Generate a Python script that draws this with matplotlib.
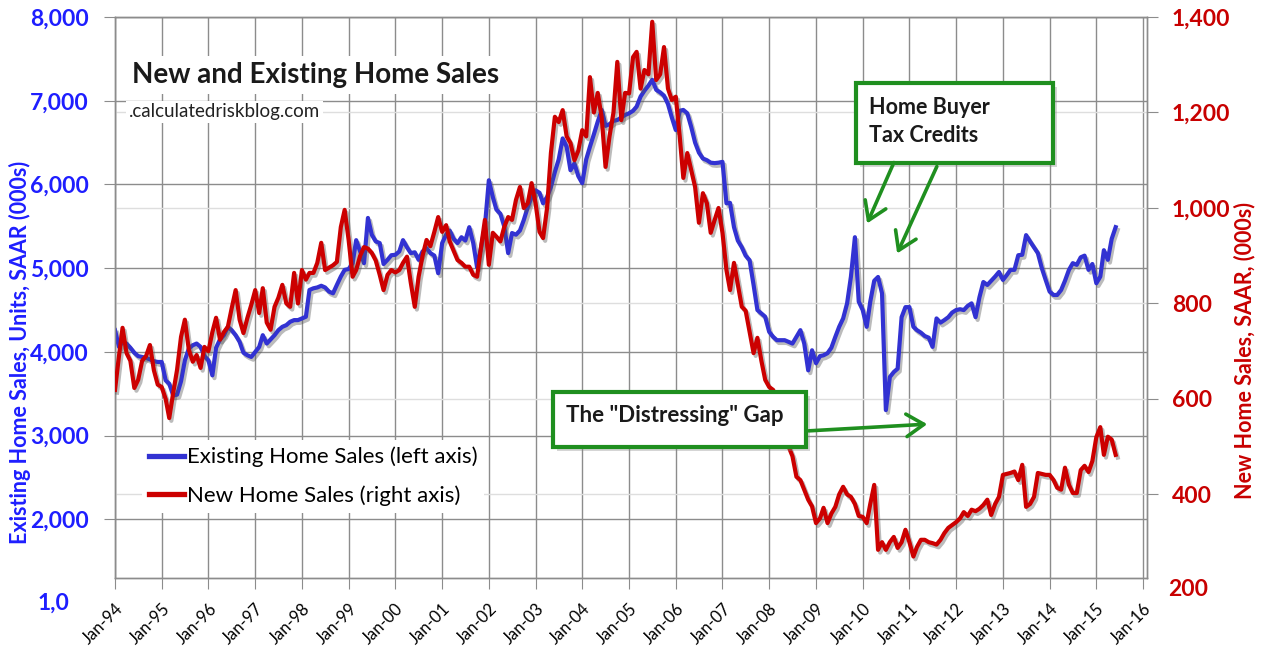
import numpy as np, pandas as pd
import matplotlib
matplotlib.use("Agg")
import matplotlib.pyplot as plt
import matplotlib.patheffects as pe
from matplotlib.patches import Rectangle, FancyArrowPatch

plt.rcParams["font.family"] = ["Lato", "DejaVu Sans"]

# ---- data (monthly, SAAR, thousands) ----
existing_sales = [
    # 1994
    4260, 4060, 4120, 4100, 4050, 3990, 3950, 3940, 3930, 3910, 3890, 3880,
    # 1995
    3880, 3660, 3620, 3480, 3490, 3650, 3900, 4040, 4080, 4100, 4060, 3950,
    # 1996
    3900, 3720, 4050, 4150, 4200, 4300, 4260, 4200, 4120, 3990, 3960, 3940,
    # 1997
    4000, 4060, 4200, 4100, 4150, 4200, 4260, 4300, 4320, 4360, 4380, 4380,
    # 1998
    4400, 4420, 4740, 4760, 4770, 4790, 4770, 4720, 4700, 4800, 4900, 4980,
    # 1999
    4990, 5060, 5335, 5200, 5060, 5600, 5400, 5320, 5300, 5050, 5100, 5155,
    # 2000
    5160, 5200, 5335, 5250, 5180, 5190, 5100, 5200, 5240, 5180, 5150, 4940,
    # 2001
    5300, 5400, 5450, 5350, 5300, 5370, 5330, 5490, 5300, 5010, 5250, 5500,
    # 2002
    6050, 5850, 5700, 5650, 5500, 5180, 5420, 5400, 5450, 5575, 5730, 5850,
    # 2003
    5930, 5900, 5775, 5850, 5970, 6150, 6300, 6550, 6450, 6170, 6250, 6100,
    # 2004
    6015, 6300, 6450, 6600, 6750, 6890, 6700, 6720, 6760, 6770, 6800, 6830,
    # 2005
    6850, 6880, 6930, 7050, 7120, 7180, 7250, 7130, 7100, 7060, 6960, 6800,
    # 2006
    6650, 6880, 6890, 6850, 6690, 6500, 6380, 6310, 6290, 6260, 6255, 6260,
    # 2007
    6270, 5775, 5780, 5490, 5330, 5250, 5150, 5095, 4800, 4500, 4460, 4420,
    # 2008
    4240, 4180, 4140, 4140, 4140, 4120, 4100, 4180, 4260, 4100, 3780, 4020,
    # 2009
    3865, 3950, 3960, 3985, 4050, 4180, 4300, 4400, 4580, 4900, 5370, 4600,
    # 2010
    4500, 4300, 4600, 4850, 4895, 4700, 3305, 3700, 3760, 3800, 4415, 4535,
    # 2011
    4535, 4300, 4260, 4230, 4190, 4170, 4060, 4400, 4350, 4380, 4415, 4470,
    # 2012
    4500, 4510, 4500, 4550, 4580, 4415, 4650, 4835, 4800, 4850, 4900, 4955,
    # 2013
    4860, 4920, 4980, 4980, 5155, 5160, 5395, 5320, 5250, 5180, 5000, 4860,
    # 2014
    4720, 4680, 4680, 4740, 4850, 4980, 5060, 5040, 5130, 5150, 4980, 5050,
    # 2015
    4820, 4900, 5215, 5100, 5350, 5490,
]
new_sales = [
    # 1994
    619, 690, 749, 696, 680, 623, 640, 680, 690, 713, 660, 630,
    # 1995
    625, 600, 560, 613, 661, 730, 766, 703, 678, 692, 665, 709,
    # 1996
    700, 740, 770, 724, 740, 751, 790, 828, 766, 738, 770, 797,
    # 1997
    828, 780, 832, 760, 745, 793, 812, 839, 800, 793, 864, 800,
    # 1998
    870, 850, 864, 864, 885, 927, 870, 875, 880, 887, 960, 996,
    # 1999
    933, 856, 870, 900, 918, 915, 906, 890, 860, 828, 860, 870,
    # 2000
    865, 870, 885, 898, 843, 793, 856, 900, 933, 920, 950, 981,
    # 2001
    950, 964, 930, 910, 891, 885, 877, 877, 860, 856, 918, 975,
    # 2002
    881, 948, 940, 930, 960, 981, 975, 1017, 1044, 1000, 1010, 1052,
    # 2003
    1010, 950, 937, 1000, 1115, 1191, 1180, 1205, 1150, 1136, 1100, 1120,
    # 2004
    1163, 1150, 1274, 1200, 1241, 1190, 1086, 1150, 1200, 1306, 1184, 1241,
    # 2005
    1240, 1316, 1327, 1250, 1289, 1280, 1390, 1268, 1280, 1337, 1250, 1226,
    # 2006
    1233, 1149, 1063, 1115, 1080, 1044, 969, 1031, 1010, 948, 975, 1000,
    # 2007
    948, 870, 828, 885, 840, 793, 785, 740, 696, 728, 680, 640,
    # 2008
    625, 619, 600, 550, 514, 500, 480, 437, 430, 410, 389, 375,
    # 2009
    340, 350, 372, 340, 360, 374, 400, 416, 400, 395, 380, 355,
    # 2010
    353, 340, 380, 420, 284, 300, 284, 300, 311, 288, 300, 326,
    # 2011
    300, 270, 290, 305, 305, 300, 298, 295, 305, 319, 330, 336,
    # 2012
    342, 350, 363, 355, 368, 365, 370, 378, 389, 357, 380, 395,
    # 2013
    441, 443, 445, 448, 430, 462, 374, 380, 395, 445, 443, 441,
    # 2014
    441, 430, 414, 410, 456, 420, 403, 403, 451, 460, 447, 470,
    # 2015
    520, 541, 483, 521, 515, 483,
]
dates = pd.date_range("1994-01-01", periods=len(existing_sales), freq="MS")
year_ticks = pd.date_range("1994-01-01", "2016-01-01", freq="YS")
year_labels = [f"Jan-{d.strftime('%y')}" for d in year_ticks]
left_ticks = [2000, 3000, 4000, 5000, 6000, 7000, 8000]
right_ticks = [400, 600, 800, 1000, 1200, 1400]

BLUE = "#3232d2"; RED = "#cc0000"; GREEN = "#1f8f1f"
LBLUE = "#1e1eff"; LRED = "#c80000"
W, H = 1262, 649
def px(x, y):
    return (x / W, 1 - y / H)

fig = plt.figure(figsize=(W / 100, H / 100), dpi=100)
AX_L, AX_R, AX_T, AX_B = 115, 1147, 17, 578
ax1 = fig.add_axes([AX_L / W, 1 - AX_B / H, (AX_R - AX_L) / W, (AX_B - AX_T) / H])
ax2 = ax1.twinx()

YL = (1300, 8000); YR = (225, 1400)
ax1.set_ylim(*YL); ax2.set_ylim(*YR)
ax1.set_xlim(pd.Timestamp("1994-01-01"), pd.Timestamp("2016-02-01"))

# grids: dark lines at left ticks, light lines at right ticks, verticals at each Jan
conv = [YL[0] + (r - YR[0]) * (YL[1] - YL[0]) / (YR[1] - YR[0]) for r in right_ticks]
ax1.set_yticks(left_ticks)
ax1.set_yticks(conv, minor=True)
ax1.set_xticks(year_ticks)
ax1.grid(True, which="major", color="#8c8c8c", lw=1.0)
ax1.grid(True, which="minor", axis="y", color="#dedede", lw=1.0)
ax1.set_axisbelow(True)
ax1.tick_params(which="minor", left=False)

sh = [pe.SimpleLineShadow(offset=(1.5, -2), shadow_color="#555555", alpha=0.4), pe.Normal()]
l1, = ax1.plot(dates, existing_sales, color=BLUE, lw=3.0, path_effects=sh, zorder=3)
l2, = ax2.plot(dates, new_sales, color=RED, lw=3.0, path_effects=sh, zorder=3)

ax1.set_yticklabels([f"{v:,}" for v in left_ticks])
ax2.set_yticks(right_ticks)
ax2.set_yticklabels([f"{v:,}" for v in right_ticks])
ax1.set_xticklabels(year_labels, rotation=45, ha="right", rotation_mode="anchor", fontsize=12)

TFS = 16.5
for t in ax1.get_yticklabels():
    t.set_color(LBLUE); t.set_fontweight("bold"); t.set_fontsize(TFS)
for t in ax2.get_yticklabels():
    t.set_color(LRED); t.set_fontweight("bold"); t.set_fontsize(TFS)
ax1.tick_params(axis="y", which="major", direction="out", length=8, color="#8c8c8c", pad=11)
ax2.tick_params(axis="y", direction="out", length=8, color="#8c8c8c", pad=10)
ax1.tick_params(axis="x", direction="out", length=8, color="#8c8c8c", pad=8)
for a in (ax1, ax2):
    for s in a.spines.values():
        s.set_color("#8c8c8c"); s.set_linewidth(1.0)

fig.text(*px(38, 603), "1,0", color=LBLUE, fontweight="bold", fontsize=TFS, va="center", ha="left")
fig.text(*px(1168, 590), "200", color=LRED, fontweight="bold", fontsize=TFS, va="center", ha="left")

ax1.set_ylabel("Existing Home Sales, Units, SAAR (000s)", color=LBLUE, fontweight="bold", fontsize=15.5)
ax1.yaxis.set_label_coords((31 - AX_L) / (AX_R - AX_L), (AX_B - 352) / (AX_B - AX_T), transform=ax1.transAxes)
ax2.set_ylabel("New Home Sales, SAAR, (000s)", color=LRED, fontweight="bold", fontsize=15.5)
ax2.yaxis.set_label_coords((1234 - AX_L) / (AX_R - AX_L), (AX_B - 351) / (AX_B - AX_T), transform=ax2.transAxes)

# title + source, with white backing
fig.text(*px(132, 75), "New and Existing Home Sales", fontsize=20, fontweight="bold", va="center",
         ha="left", color="#1a1a1a", bbox=dict(fc="white", ec="none", pad=4), zorder=5)
fig.text(*px(129, 112), ".calculatedriskblog.com", fontsize=13.5, va="center", ha="left",
         color="#222222", bbox=dict(fc="white", ec="none", pad=2), zorder=5)

leg = ax2.legend([l1, l2], ["Existing Home Sales (left axis)", "New Home Sales (right axis)"],
                 loc="upper left", bbox_to_anchor=px(131, 429), bbox_transform=fig.transFigure,
                 fontsize=16, frameon=True, fancybox=False, framealpha=1, edgecolor="none",
                 handlelength=1.6, handletextpad=0.12, labelspacing=0.82, borderpad=0.3)
for h in leg.get_lines():
    h.set_linewidth(3.8); h.set_path_effects([])

# annotation boxes
def box(x0, y0, x1, y1):
    (fx0, fy1) = px(x0, y0); (fx1, fy0) = px(x1, y1)
    fig.add_artist(Rectangle((fx0 + 4 / W, fy0 - 4 / H), fx1 - fx0, fy1 - fy0, transform=fig.transFigure,
                             fc="#888888", ec="none", alpha=0.35, zorder=6))
    fig.add_artist(Rectangle((fx0, fy0), fx1 - fx0, fy1 - fy0, transform=fig.transFigure,
                             fc="white", ec=GREEN, lw=3, zorder=7))

def arrow(a, b):
    fig.add_artist(FancyArrowPatch(px(*a), px(*b), transform=fig.transFigure,
                                   arrowstyle="->,head_length=0.7,head_width=0.45",
                                   mutation_scale=18, lw=2.6, color=GREEN, zorder=8))

box(856, 83, 1053, 163)
fig.text(*px(869, 107), "Home Buyer", fontsize=15.5, fontweight="bold", va="center", color="#1a1a1a", zorder=9)
fig.text(*px(869, 135), "Tax Credits", fontsize=15.5, fontweight="bold", va="center", color="#1a1a1a", zorder=9)
arrow((895, 160), (866, 226))
arrow((938, 164), (896, 256))

box(553, 392, 806, 447)
fig.text(*px(566, 415), 'The "Distressing" Gap', fontsize=16, fontweight="bold", va="center",
         color="#1a1a1a", zorder=9)
arrow((806, 431), (930, 424))

fig.savefig("out.png", dpi=100)
